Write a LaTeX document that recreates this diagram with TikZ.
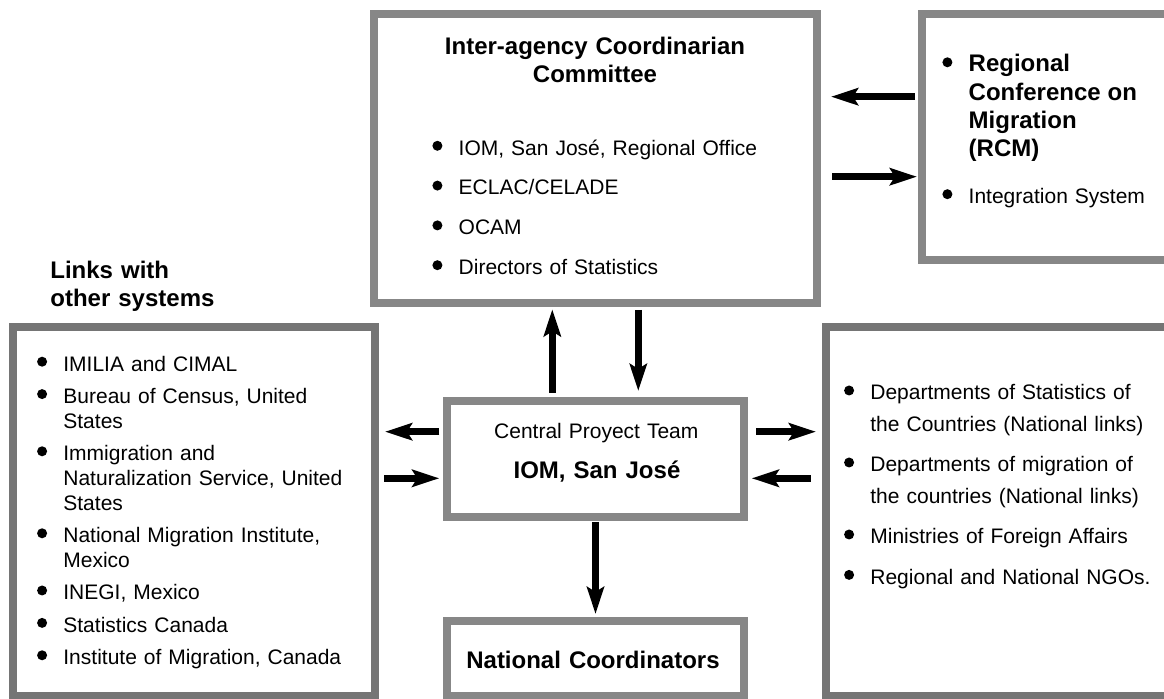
\documentclass[tikz,border=0pt]{standalone}
\usepackage{fontspec}
\setmainfont{Liberation Sans}
\usepackage{enumitem}
\usetikzlibrary{arrows.meta, calc}

\definecolor{framegray}{gray}{0.53}
\definecolor{framedark}{gray}{0.46}

\newcommand{\dotmark}{\tikz[baseline=-4.7pt]\fill (0,0) circle[radius=2.5pt];}
\newcommand{\bodyfont}[1]{\fontsize{10.5}{#1}\selectfont}
\newcommand{\headfont}{\bfseries\fontsize{12}{14.2}\selectfont}

\setlist[itemize]{label=\dotmark, labelwidth=5pt, labelsep=8.15pt, leftmargin=12.9pt, topsep=0pt, partopsep=0pt, parsep=0pt}

\begin{document}
\begin{tikzpicture}[x=0.5pt, y=-0.5pt,
	frame/.style={draw=framegray, line width=4pt, inner sep=0pt, fill=white},
	bigframe/.style={frame, draw=framedark},
	bigarrow/.style={-{Stealth[length=13.5pt, width=8.5pt, inset=2.5pt]}, line width=3.5pt},
	txt/.style={inner sep=0pt, anchor=base west, align=left}]
	\useasboundingbox (0,0) rectangle (1164,699);
	
	% frames
	\node[frame, minimum width=221.5pt, minimum height=144.5pt] (icc) at (595.5,158.5) {};
	\node[frame, minimum width=129pt, minimum height=123pt] (rcm) at (1051,137) {};
	\node[bigframe, minimum width=181pt, minimum height=184.5pt] (links) at (194,511.5) {};
	\node[bigframe, minimum width=177.25pt, minimum height=184.5pt] (natl) at (1002.75,511.5) {};
	\node[frame, minimum width=148.5pt, minimum height=58pt] (cpt) at (595.5,459) {};
	\node[frame, minimum width=148.5pt, minimum height=37.5pt] (natc) at (595.5,658.5) {};
	
	% texts (lists sit one line below their base point)
	\node[txt, anchor=base, text width=200pt, align=center, font=\headfont] (icc-title) at (595,54.3) {Inter-agency Coordinarian\\Committee};
	\node[txt, text width=170pt, font=\bodyfont{12.5}] (icc-list) at (432.5,130.2) {%
		\begin{itemize}[itemsep=7.4pt]
			\item IOM, San José, Regional Office
			\item ECLAC/CELADE
			\item OCAM
			\item Directors of Statistics
		\end{itemize}};
	\node[txt, text width=120pt, font=\bodyfont{12.5}] (rcm-list) at (942.5,43.3) {%
		\begin{itemize}[itemsep=10.85pt]
			\item {\headfont Regional\\Conference on\\Migration\\(RCM)\par}
			\item Integration System
		\end{itemize}};
	\node[txt, text width=110pt, font=\headfont] (links-title) at (50,278.3) {Links with\\other systems};
	\node[txt, text width=170pt, font=\bodyfont{12.4}] (links-list) at (37.2,346.3) {%
		\begin{itemize}[itemsep=3.8pt]
			\item IMILIA and CIMAL
			\item Bureau of Census, United\\States
			\item Immigration and\\Naturalization Service, United\\States
			\item National Migration Institute,\\Mexico
			\item INEGI, Mexico
			\item Statistics Canada
			\item Institute of Migration, Canada
		\end{itemize}};
	\node[txt, text width=170pt, font=\bodyfont{15.8}] (natl-list) at (844.2,368.3) {%
		\begin{itemize}[itemsep=4.4pt]
			\item Departments of Statistics of\\the Countries (National links)
			\item Departments of migration of\\the countries (National links)
			\item Ministries of Foreign Affairs
			\item Regional and National NGOs.
		\end{itemize}};
	\node[txt, anchor=base, text width=140pt, align=center, font=\bodyfont{12.5}] (cpt-top) at (596.3,439) {Central Proyect Team};
	\node[txt, anchor=base, text width=140pt, align=center, font=\headfont] (cpt-name) at (597,478.3) {IOM, San José};
	\node[txt, anchor=base, text width=140pt, align=center, font=\headfont] (natc-name) at (593,668.3) {National Coordinators};
	
	% arrows
	\coordinate (r1) at ([yshift=20.15pt]rcm.west);
	\coordinate (r2) at ([yshift=-19.85pt]rcm.west);
	\draw[bigarrow, shorten <=1.5pt, shorten >=5pt] (r1) -- (r1 -| icc.east);
	\draw[bigarrow, shorten <=5.5pt, shorten >=0.5pt] (r2 -| icc.east) -- (r2);
	
	\coordinate (c1) at ([xshift=-21.6pt]cpt.north);
	\coordinate (c2) at ([xshift=21.4pt]cpt.north);
	\draw[bigarrow, shorten <=2.15pt, shorten >=1.15pt] (c1) -- (c1 |- icc.south);
	\draw[bigarrow, shorten <=1.5pt, shorten >=3pt] (c2 |- icc.south) -- (c2);
	
	\coordinate (l1) at ([yshift=13.65pt]cpt.west);
	\coordinate (l2) at ([yshift=-9.65pt]cpt.west);
	\draw[bigarrow, shorten <=1.85pt, shorten >=3pt] (l1) -- (l1 -| links.east);
	\draw[bigarrow, shorten <=2.5pt, shorten >=1.85pt] (l2 -| links.east) -- (l2);
	
	\coordinate (n1) at ([yshift=13.65pt]cpt.east);
	\coordinate (n2) at ([yshift=-9.65pt]cpt.east);
	\draw[bigarrow, shorten <=4pt, shorten >=2.75pt] (n1) -- (n1 -| natl.west);
	\draw[bigarrow, shorten <=5.4pt, shorten >=1.85pt] (n2 -| natl.west) -- (n2);
	
	\draw[bigarrow, shorten <=0.5pt, shorten >=1.5pt] (cpt.south) -- (natc.north);
\end{tikzpicture}
\end{document}
